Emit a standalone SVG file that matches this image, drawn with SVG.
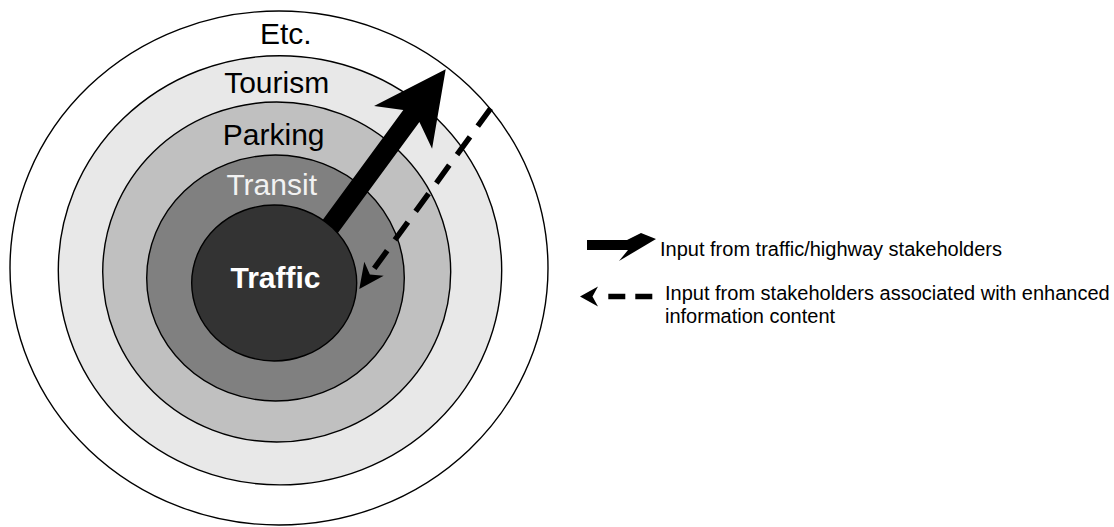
<svg xmlns="http://www.w3.org/2000/svg" width="1114" height="527" viewBox="0 0 1114 527">
<style>
.ring{stroke:#000;stroke-width:1.4}
.lbl{font-family:"Liberation Sans",Arial,sans-serif;font-size:30px;text-anchor:middle}
.leg{font-family:"Liberation Sans",Arial,sans-serif;font-size:20px;fill:#000}
</style>
<rect width="1114" height="527" fill="#fff"/>
<g id="etc"><ellipse class="ring" cx="279" cy="268" rx="269" ry="257" fill="#fff"/></g>
<g id="tourism"><ellipse class="ring" cx="280" cy="270.3" rx="221.7" ry="214.6" fill="#e8e8e8"/></g>
<g id="parking"><ellipse class="ring" cx="276.7" cy="272" rx="174" ry="170" fill="#c0c0c0"/></g>
<g id="transit"><ellipse class="ring" cx="275.5" cy="278" rx="128.8" ry="123" fill="#808080"/></g>
<g id="connectors">
<path id="solid-arrow" transform="translate(445.7,69.3) rotate(-53.7)" d="M0,0 L-72,-36 L-58,-10 L-215,-10 L-215,10 L-58,10 L-72,36 Z" fill="#000"/>
</g>
<g id="traffic"><ellipse class="ring" cx="274.2" cy="283" rx="82.5" ry="78" fill="#333"/></g>
<g id="connectors2">
<line x1="490.7" y1="108.3" x2="372.5" y2="270.8" stroke="#000" stroke-width="5.5" stroke-dasharray="22 13.2"/>
<path transform="translate(359.3,289) rotate(126)" d="M0,0 L-25,-12 L-18,0 L-25,12 Z" fill="#000"/>
</g>
<g id="labels">
<text class="lbl" x="285.8" y="44.3" fill="#000">Etc.</text>
<text class="lbl" x="276.7" y="93.3" fill="#000">Tourism</text>
<text class="lbl" x="273.7" y="145" fill="#000">Parking</text>
<text class="lbl" x="271.7" y="195" fill="#f2f2f2">Transit</text>
<text class="lbl" x="275.5" y="288.3" fill="#fff" font-weight="bold" font-size="35">Traffic</text>
</g>
<g id="legend">
<g id="legend-solid">
<path d="M587,240 L627,240 L641,233 L656,239 L619,261 L628,250 L587,250 Z" fill="#000"/>
<text class="leg" x="660" y="256">Input from traffic/highway stakeholders</text>
</g>
<g id="legend-dashed">
<path d="M580,296.5 L598,286.5 L592.5,296.5 L598,306.5 Z" fill="#000"/>
<line x1="608.3" y1="296.5" x2="653.3" y2="296.5" stroke="#000" stroke-width="5.5" stroke-dasharray="17 10"/>
<text class="leg" x="665" y="300">Input from stakeholders associated with enhanced</text>
<text class="leg" x="665" y="323">information content</text>
</g>
</g>
</svg>
